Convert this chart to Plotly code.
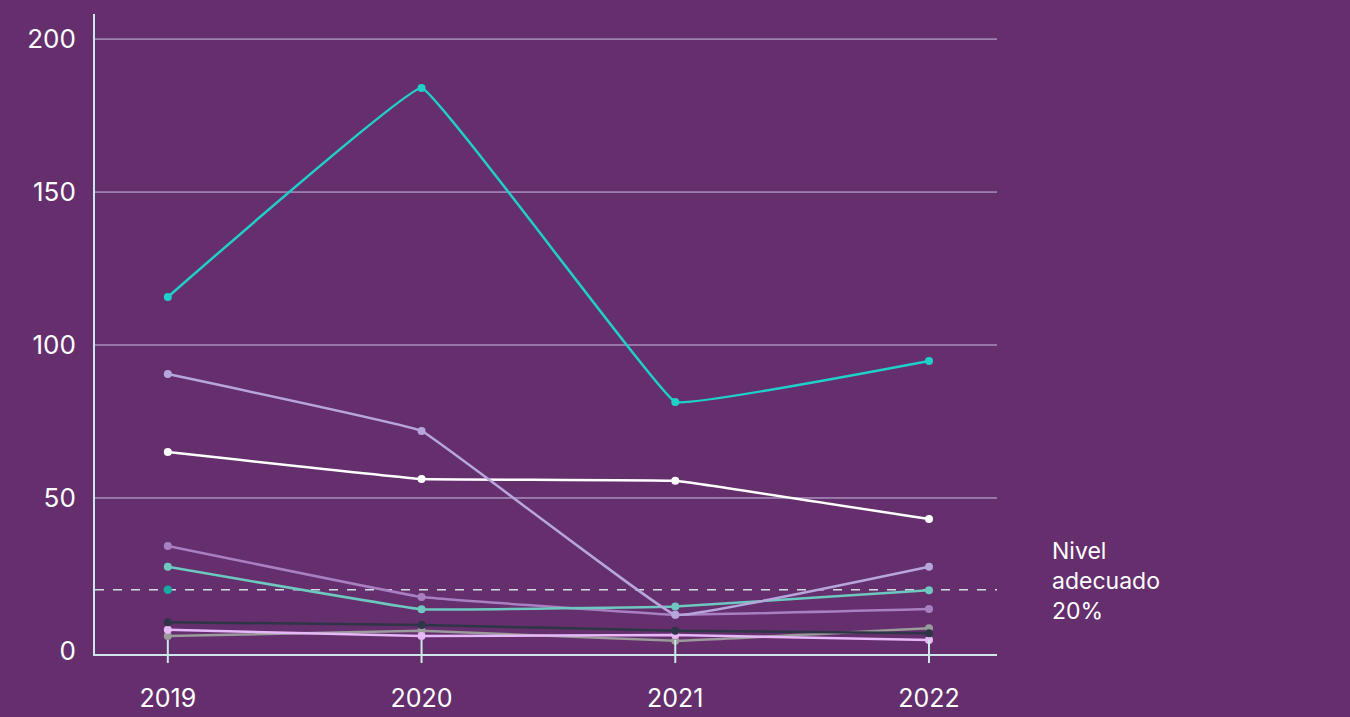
import plotly.graph_objects as go

years = [2019, 2020, 2021, 2022]

s_cyan = [115.7, 184.0, 81.4, 94.8]
s_lavender = [90.5, 71.9, 11.8, 27.5]
s_white = [65.0, 56.2, 55.6, 43.1]
s_mauve = [34.3, 17.6, 11.8, 13.7]
s_teal = [27.5, 13.6, 14.5, 19.8]
s_dark = [9.4, 8.5, 6.6, 5.8]
s_pink = [6.9, 4.9, 5.2, 3.6]
s_gray = [4.9, 6.6, 3.3, 7.4]
target_year = [2019]
target_value = [20]
nivel = 20

y_ticks = [0, 50, 100, 150, 200]

series = [
    (s_gray, "#9b9b9b"),
    (s_pink, "#e6b8f7"),
    (s_dark, "#2e3547"),
    (s_mauve, "#a87fc0"),
    (s_teal, "#6ec8bf"),
    (s_white, "#ffffff"),
    (s_lavender, "#b7a5dd"),
    (s_cyan, "#1fd0c9"),
]

bg = "#652f6d"
axis_col = "#cde8ea"
font_fam = "Inter, Lato, sans-serif"

fig = go.Figure()

# horizontal gridlines (except at 0, where the axis line sits)
for v in y_ticks[1:]:
    fig.add_shape(type="line", xref="paper", x0=0, x1=1, yref="y", y0=v, y1=v,
                  line=dict(color="#cbbfe3", width=1), layer="below")

# dashed adequate level line
fig.add_shape(type="line", xref="paper", x0=0, x1=1, yref="y", y0=nivel, y1=nivel,
              line=dict(color="#d2dfe2", width=1.3, dash="dash"), layer="below")

for vals, col in series:
    fig.add_trace(go.Scatter(
        x=years, y=vals, mode="lines+markers",
        line=dict(color=col, width=2.5, shape="spline", smoothing=0.16),
        marker=dict(color=col, size=8),
        showlegend=False, hoverinfo="x+y",
    ))

fig.add_trace(go.Scatter(
    x=target_year, y=target_value, mode="markers",
    marker=dict(color="#15aaa2", size=8.5), showlegend=False,
))

# crossing tick marks on x axis
for yr in years:
    fig.add_shape(type="line", xref="x", x0=yr, x1=yr, yref="paper", y0=-0.014, y1=0.022,
                  line=dict(color=axis_col, width=2))

fig.add_annotation(
    xref="paper", yref="y", x=1.0585, y=nivel, xanchor="left", yanchor="middle",
    yshift=9,
    text="Nivel<br>adecuado<br>20%", showarrow=False, align="left",
    font=dict(color="#ffffff", size=23, family=font_fam),
)

fig.update_layout(
    width=1350, height=717,
    paper_bgcolor=bg, plot_bgcolor=bg,
    margin=dict(l=95, r=353, t=14, b=63),
    font=dict(family=font_fam, color="#ffffff", size=26),
    xaxis=dict(
        range=[2018.713, 2022.268], tickvals=years, ticktext=[str(y) for y in years],
        showgrid=False, zeroline=False, showline=True, linecolor=axis_col, linewidth=2,
        ticks="", ticklabelstandoff=21, tickfont=dict(size=25, color="#ffffff"),
        automargin=False, fixedrange=True,
    ),
    yaxis=dict(
        range=[-1, 208.2], tickvals=y_ticks, ticktext=[str(v) for v in y_ticks],
        showgrid=False, zeroline=False,
        showline=True, linecolor=axis_col, linewidth=2, ticks="",
        ticklabelstandoff=12, tickfont=dict(size=26, color="#ffffff"),
        automargin=False,
    ),
)

fig.write_html("out.html", config={"displayModeBar": False},
               post_script="document.body.style.margin='0';document.body.style.overflow='hidden';")
